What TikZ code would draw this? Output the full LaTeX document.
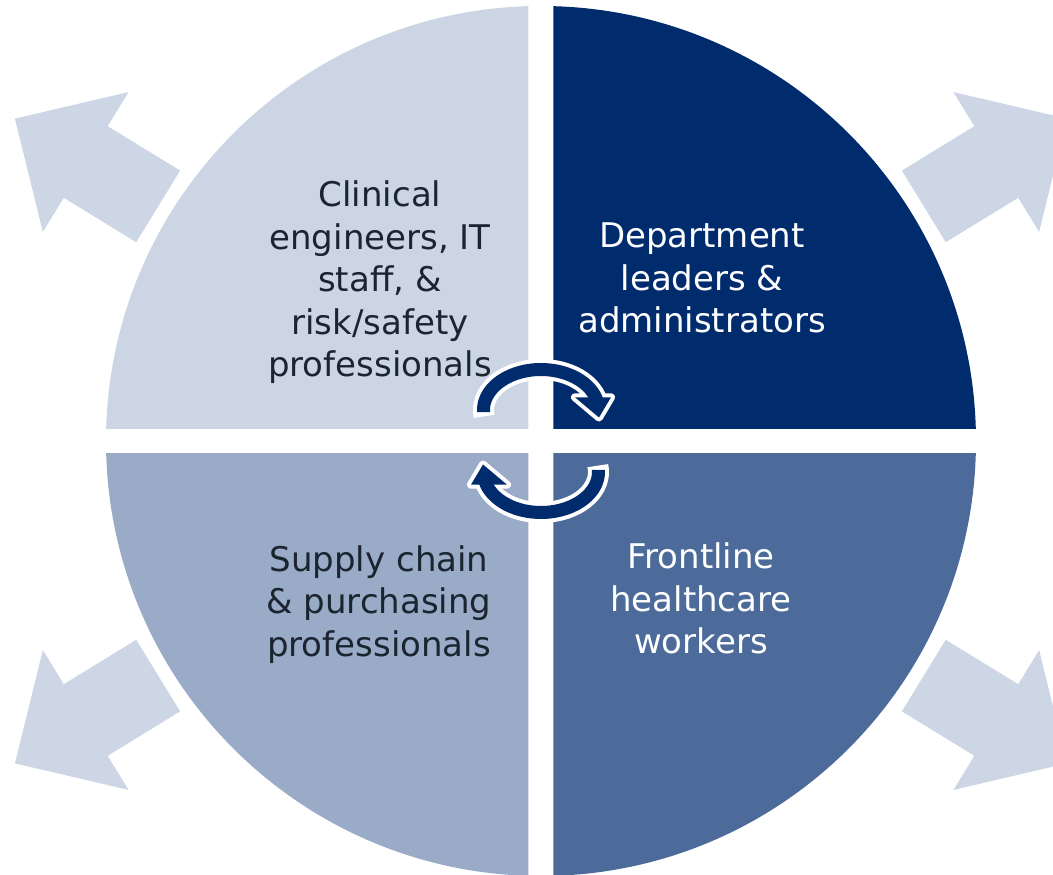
\documentclass[tikz,border=0pt]{standalone}
\usepackage{fontspec}
\setmainfont{DejaVu Sans}
\usepackage{tikz}

\definecolor{palearrow}{HTML}{CCD6E5}
\definecolor{quadA}{HTML}{CBD5E4}
\definecolor{quadB}{HTML}{002C6E}
\definecolor{quadC}{HTML}{9AABC8}
\definecolor{quadD}{HTML}{4C6A9A}
\definecolor{inkdark}{HTML}{1A2530}

\begin{document}
\begin{tikzpicture}[x=1pt,y=1pt,
        roletext/.style={align=center,font=\fontsize{34}{42.5}\selectfont},
        loopedge/.style={white,line width=21pt},
        loopbody/.style={quadB,line width=13pt}]
    \useasboundingbox (-541,-434) rectangle (512,441);
    % pale arrows pointing out behind the disc
    \foreach \a in {31.5,148.5,211.5,328.5}
        \fill [palearrow,rotate=\a] (449,-42) -- (534,-42) -- (534,-82) -- (617,0)
            -- (534,82) -- (534,42) -- (449,42) -- cycle;
    % the four quarters, split by a white cross
    \foreach \sx/\sy/\c in {-1/1/quadA,1/1/quadB,-1/-1/quadC,1/-1/quadD} {
        \begin{scope}
            \clip (\sx*12.5,\sy*12.5) rectangle (\sx*460,\sy*460);
            \fill [\c] (0,0) circle (435);
        \end{scope}
    }
    \node [roletext,text=inkdark] (clin) at (-161,158.5)
        {Clinical\\engineers, IT\\staff, \&\\risk/safety\\professionals};
    \node [roletext,text=white] (dept) at (161,163)
        {Department\\leaders \&\\administrators};
    \node [roletext,text=inkdark] (supp) at (-162,-163.5)
        {Supply chain\\\& purchasing\\professionals};
    \node [roletext,text=white] (front) at (160,-157.5)
        {Frontline\\healthcare\\workers};
    % two bent arrows round the middle
    \foreach \r in {0,180} {
        \begin{scope}[rotate=\r]
            \draw [loopedge] (0,31) ++(189:57.5 and 40.5)
                arc [start angle=189,end angle=12,x radius=57.5,y radius=40.5];
            \filldraw [white,line width=8pt,line join=round]
                (34,43.7) -- (70,43.7) -- (58,23.5) -- cycle;
            \draw [loopbody] (0,31) ++(183:57.5 and 40.5)
                arc [start angle=183,end angle=12,x radius=57.5,y radius=40.5];
            \fill [quadB] (34,43.7) -- (70,43.7) -- (58,23.5) -- cycle;
        \end{scope}
    }
\end{tikzpicture}
\end{document}
